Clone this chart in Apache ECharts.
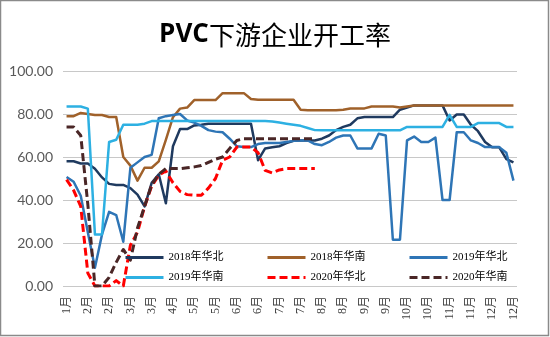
<!DOCTYPE html>
<html><head><meta charset="utf-8">
<script src="https://cdn.jsdelivr.net/npm/echarts@6/dist/echarts.min.js"></script>
<style>html,body{margin:0;padding:0;background:#fff}#c{width:550px;height:337px}</style>
</head><body><div id="c"></div>
<script>
const categories = [
 '1月','1月','1月','2月','2月','2月','2月','2月','2月','3月','3月','3月','3月','3月','3月','4月',
 '4月','4月','5月','5月','5月','5月','5月','5月','6月','6月','6月','6月','6月','6月','7月','7月',
 '7月','7月','7月','7月','8月','8月','8月','8月','8月','8月','9月','9月','9月','9月','9月','9月',
 '10月','10月','10月','10月','10月','10月','11月','11月','11月','11月','11月','11月','12月','12月','12月','12月'
];
const seriesNames = ['2018年华北','2018年华南','2019年华北','2019年华南','2020年华北','2020年华南'];
const north2018 = [58,58,57,57,54.5,50.5,47.5,47,47,45.5,42.5,37,48,52,38.5,65,73,73,74.7,75,75.5,75.5,75.5,75.5,75.5,75.5,75.5,58.5,64,64.5,65,66.5,67.5,67.7,67.7,67.7,68.5,70,72.5,74,75,78,78.6,78.6,78.6,78.6,78.6,82,83,84,84,84,84,84,77,79.8,79.8,75,72,67,64.5,64.5,59,57.5];
const south2018 = [79,79,80.5,80,79.5,79.5,78.6,78.6,60,56,49,55,55,58,68,78.5,82.5,83,86.5,86.5,86.5,86.5,89.7,89.7,89.7,89.7,87,86.6,86.6,86.6,86.6,86.6,86.6,82,81.7,81.7,81.7,81.7,81.7,82,82.6,82.6,82.6,83.5,83.5,83.5,83.5,83,83.5,84,84,84,84,84,84,84,84,84,84,84,84,84,84,84];
const north2019 = [50.7,48.5,42,25,8.5,24,34.5,33,20.6,55,57.5,60,61,78,79,79.5,80,77,76,74.5,72.5,71.8,71.5,68.5,65,64.6,64.6,66,66.5,66.5,66.5,67,67.5,67.7,67.7,66,65.5,67,69,70,70,64,64,64,70.8,70,21.5,21.5,67.7,69.5,67,67,69,40,40,71.5,71.5,67.7,66.5,64.6,64.6,64.6,62,49];
const south2019 = [83.5,83.5,83.5,82.5,24,24,67,68,75,75,75,75.5,76.7,76.7,76.7,76.7,76.7,76.7,76.7,76.7,76.7,76.7,76.7,76.7,76.7,76.7,76.7,76.7,76.7,76.5,76,75.5,75,74.5,73.5,72.5,72.4,72.4,72.4,72.4,72.4,72.4,72.4,72.4,72.4,72.4,72.4,72.4,74,74,74,74,74,74,79.6,74,74,74,75.8,75.8,75.8,75.8,74,74];
const north2020 = [49.5,44.5,37,6,0,0,0,2.5,0,19,25,37,46.5,51.5,53.5,48,44,42.5,42.2,42.2,45.5,50,58.5,60,64.6,64.6,64.6,62,53.8,52.6,54,54.6,54.7,54.7,54.7,54.7];
const south2020 = [74,74,70,38,0,0,4,11,17,12,27,37,47,52,54.6,54.6,54.6,55,55.4,56,57.5,59,60,64,67.7,68.5,68.5,68.5,68.5,68.5,68.5,68.5,68.5,68.5,68.5,68.5];

const seriesData = [north2018, south2018, north2019, south2019, north2020, south2020];
const colors = ['#1F3A5F','#A0612A','#2E75B6','#2DB0E2','#FF0000','#4A2626'];
const dashed = [false,false,false,false,true,true];

const chart = echarts.init(document.getElementById('c'), null, {renderer:'canvas'});
const legendPos = [[124,252],[266,252],[408,252],[124,272],[266,272],[408,272]];
const serifFont = '"Liberation Serif","Noto Sans CJK SC",serif';
chart.setOption({
  animation:false,
  backgroundColor:'#fff',
  title:{
    text:'{a|PVC}{b|下游企业开工率}', left:'center', top:17,
    textStyle:{rich:{
      a:{fontFamily:'"Open Sans",sans-serif', fontWeight:'bold', fontSize:26, color:'#000'},
      b:{fontFamily:'"Noto Sans CJK SC",sans-serif', fontWeight:'normal', fontSize:26, color:'#000'}
    }}
  },
  graphic:[{type:'rect', shape:{x:0.5,y:0.5,width:548,height:335}, style:{fill:'none', stroke:'#8a8a8a', lineWidth:1.5}, silent:true}],
  legend: seriesNames.map((n,i)=>({
    data:[n], left:legendPos[i][0], top:legendPos[i][1], padding:0,
    itemWidth:38, itemHeight:14, selectedMode:false,
    itemStyle:{opacity:0},
    lineStyle:{width:3},
    textStyle:{fontFamily:serifFont, fontSize:11, color:'#000'}
  })),
  grid:{left:63, right:33, top:71, bottom:51},
  xAxis:{
    type:'category', data:categories, boundaryGap:true,
    axisLine:{show:false}, axisTick:{show:false},
    axisLabel:{interval:2, rotate:90, margin:10, fontFamily:serifFont, fontSize:12, color:'#404040'}
  },
  yAxis:{
    type:'value', min:0, max:100, interval:20,
    axisLine:{show:false}, axisTick:{show:false},
    axisLabel:{margin:10, fontFamily:'Lato,sans-serif', fontSize:14, color:'#595959', formatter:v=>v.toFixed(2)},
    splitLine:{lineStyle:{color:'#c8c8c8', width:1}}
  },
  series: seriesNames.map((n,i)=>({
    name:n, type:'line', data:seriesData[i], symbol:'none', showSymbol:false,
    lineStyle:{color:colors[i], width: dashed[i]?3:2.5, type: dashed[i]?[8,4]:'solid', cap:'butt', join:'round'},
    itemStyle:{color:colors[i]}
  }))
});
</script></body></html>
